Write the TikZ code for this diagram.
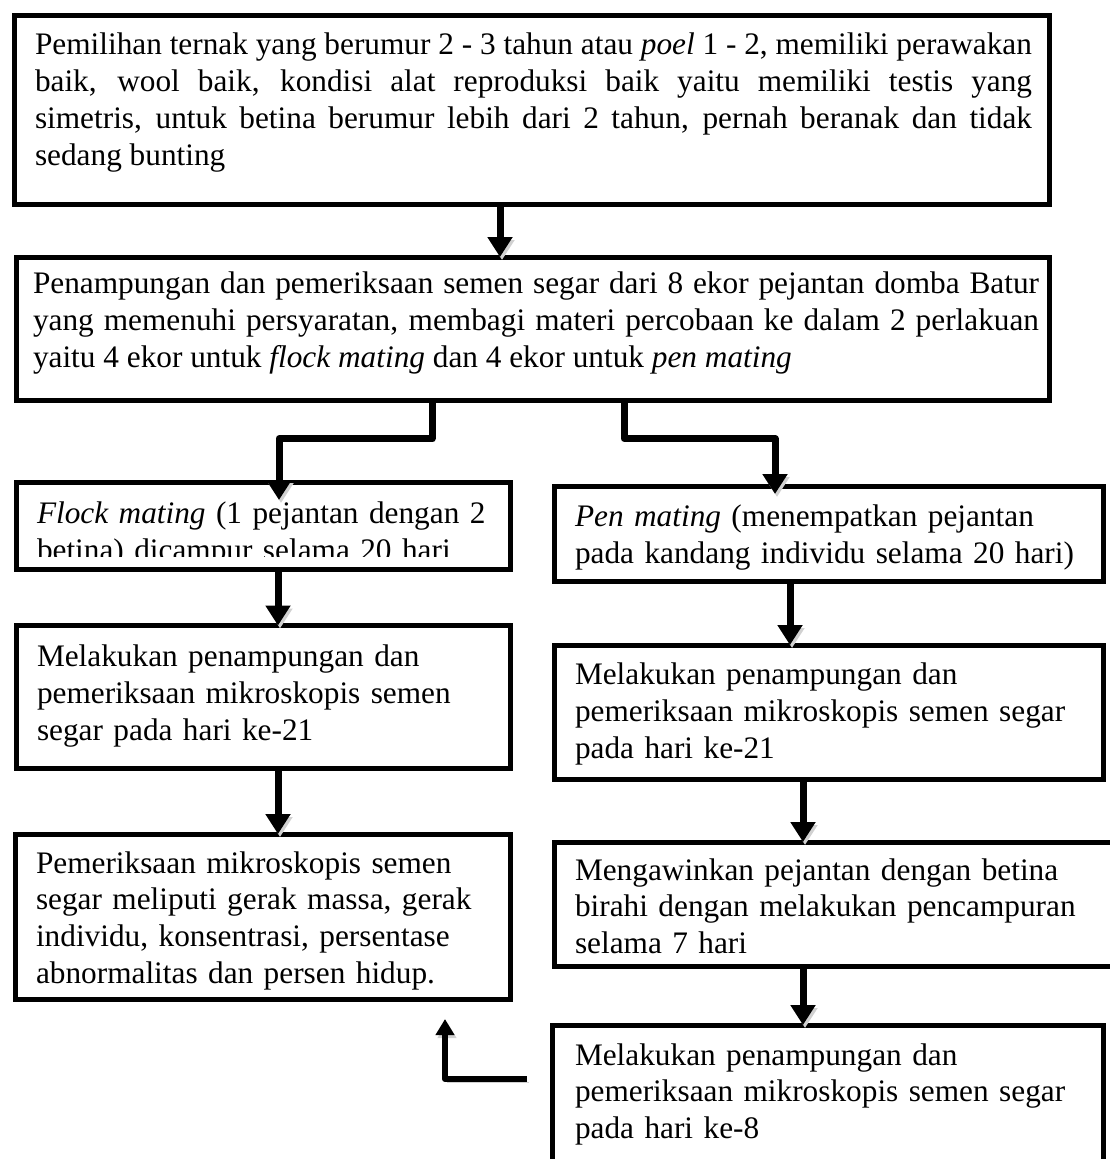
\documentclass[tikz,border=0pt]{standalone}
\usepackage{fontspec}
\setmainfont{Liberation Serif}
\usetikzlibrary{arrows.meta,calc}
\hyphenpenalty=10000
\exhyphenpenalty=10000
\begin{document}
\begin{tikzpicture}[x=1pt,y=-1pt,
  every node/.style={font=\fontsize{31.3}{36.7}\selectfont},
  boxnode/.style={draw, line width=5pt, rectangle, anchor=north west, inner sep=0pt, outer sep=0pt, fill=white},
  txt/.style={anchor=north west, inner sep=0pt, outer sep=0pt, align=left, text width=#1},
  shade/.style={preaction={draw=black!18, transform canvas={shift={(2pt,-3pt)}}}},
  conn/.style={line width=7pt, line join=round, shade, -{Triangle[width=24pt,length=20pt]}},
  conn2/.style={line width=6pt, line join=round, shade, -{Triangle[width=18pt,length=16pt]}}
]
\useasboundingbox (0,0) rectangle (1110,1159);

% boxes
\node[boxnode, minimum width=1035pt, minimum height=189.5pt] (A) at (14,15) {};
\node[boxnode, minimum width=1033pt, minimum height=143pt] (B) at (16,257) {};
\node[boxnode, minimum width=494pt, minimum height=87.5pt] (C) at (16,482) {};
\node[boxnode, minimum width=549pt, minimum height=95pt] (D) at (554,486) {};
\node[boxnode, minimum width=494pt, minimum height=142.5pt] (E) at (16,625.5) {};
\node[boxnode, minimum width=549pt, minimum height=134pt] (F) at (554,645) {};
\node[boxnode, minimum width=495pt, minimum height=165pt] (G) at (15,834) {};
\node[boxnode, minimum width=600pt, minimum height=124pt] (H) at (554,842) {};
\node[boxnode, minimum width=551pt, minimum height=200pt] (I) at (552,1025) {};

% texts
\node[txt=997pt, align=justify] (tA) at ([xshift=21pt,yshift=-14.3pt]A.north west)
 {\spaceskip=0.25em plus 0.4em minus 0.15em\strut Pemilihan ternak yang berumur 2 - 3 tahun atau \textit{poel} 1 - 2, memiliki perawakan\linebreak
  baik, wool baik, kondisi alat reproduksi baik yaitu memiliki testis yang\linebreak
  simetris, untuk betina berumur lebih dari 2 tahun, pernah beranak dan tidak\linebreak
  sedang bunting};
\node[txt=1006pt, align=justify] (tB) at ([xshift=17pt,yshift=-11.3pt]B.north west)
 {\spaceskip=0.25em plus 0.4em minus 0.15em\strut Penampungan dan pemeriksaan semen segar dari 8 ekor pejantan domba Batur\linebreak
  yang memenuhi persyaratan, membagi materi percobaan ke dalam 2 perlakuan\linebreak
  yaitu 4 ekor untuk \textit{flock mating} dan 4 ekor untuk \textit{pen mating}};
\begin{scope}
\clip (C.north west) rectangle ([yshift=13.5pt]C.south east);
\node[txt=480pt] (tC) at ([xshift=21pt,yshift=-16.3pt]C.north west)
 {\strut\textit{Flock mating} (1 pejantan dengan 2\\betina) dicampur selama 20 hari};
\end{scope}
\node[txt=530pt] (tD) at ([xshift=21pt,yshift=-15.3pt]D.north west)
 {\strut\textit{Pen mating} (menempatkan pejantan\\pada kandang individu selama 20 hari)};
\node[txt=480pt] (tE) at ([xshift=21pt,yshift=-15.8pt]E.north west)
 {\strut Melakukan penampungan dan\\pemeriksaan mikroskopis semen\\segar pada hari ke-21};
\node[txt=530pt] (tF) at ([xshift=21pt,yshift=-14.3pt]F.north west)
 {\strut Melakukan penampungan dan\\pemeriksaan mikroskopis semen segar\\pada hari ke-21};
\node[txt=480pt] (tG) at ([xshift=21pt,yshift=-13.3pt]G.north west)
 {\strut Pemeriksaan mikroskopis semen\\segar meliputi gerak massa, gerak\\individu, konsentrasi, persentase\\abnormalitas dan persen hidup.};
\node[txt=540pt] (tH) at ([xshift=21pt,yshift=-12.3pt]H.north west)
 {\strut Mengawinkan pejantan dengan betina\\birahi dengan melakukan pencampuran\\selama 7 hari};
\node[txt=530pt] (tI) at ([xshift=23pt,yshift=-14.3pt]I.north west)
 {\strut Melakukan penampungan dan\\pemeriksaan mikroskopis semen segar\\pada hari ke-8};

% connectors
\draw[conn] (500,0 |- A.south) -- (500,0 |- B.north);
\draw[conn] (432,0 |- B.south) |- (279,438.5) -- ($(279,0 |- C.north)+(0,18)$);
\draw[conn] (624,0 |- B.south) |- (775,438.5) -- ($(775,0 |- D.north)+(0,8)$);
\draw[conn] (278,0 |- C.south) -- (278,0 |- E.north);
\draw[conn] (790,0 |- D.south) -- (790,0 |- F.north);
\draw[conn] (278,0 |- E.south) -- (278,0 |- G.north);
\draw[conn] (803,0 |- F.south) -- (803,0 |- H.north);
\draw[conn] (803,0 |- H.south) -- (803,0 |- I.north);
\coordinate (fbs) at (527,1079);
\coordinate (fbe) at (445,1019);
\draw[conn2] (fbs) -| (fbe);
\end{tikzpicture}
\end{document}
